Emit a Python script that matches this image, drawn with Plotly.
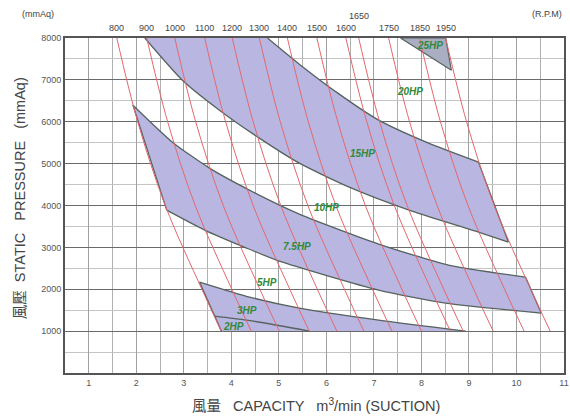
import plotly.graph_objects as go

# ---------------- data ----------------
pressure_levels = [8000, 6000, 4000, 2000, 1000]

rpm_values = [800, 900, 1000, 1100, 1200, 1300, 1400, 1500, 1600, 1650, 1750, 1850, 1950]
# capacity (m3/min) of each RPM curve at the pressure levels above
rpm_curve_capacity = [
    [1.59, 2.03, 2.61, 3.38, 3.79],
    [2.22, 2.66, 3.24, 4.01, 4.42],
    [2.81, 3.25, 3.83, 4.60, 5.01],
    [3.44, 3.88, 4.46, 5.23, 5.64],
    [4.02, 4.46, 5.04, 5.81, 6.22],
    [4.59, 5.03, 5.61, 6.38, 6.79],
    [5.18, 5.62, 6.20, 6.97, 7.38],
    [5.80, 6.24, 6.82, 7.59, 8.00],
    [6.41, 6.85, 7.43, 8.20, 8.61],
    [6.68, 7.12, 7.70, 8.47, 8.88],
    [7.31, 7.75, 8.33, 9.10, 9.51],
    [7.96, 8.40, 8.98, 9.75, 10.16],
    [8.51, 8.95, 9.53, 10.30, 10.71],
]

# 15HP / 20HP band
band_a_upper_x = [4.76, 5.43, 6.27, 7.10, 8.15, 9.20]
band_a_upper_y = [8000, 7375, 6659, 6038, 5489, 5036]
band_a_lower_x = [2.18, 2.97, 3.75, 4.59, 5.43, 6.48, 7.80, 9.20, 9.83]
band_a_lower_y = [8000, 6993, 6277, 5609, 5012, 4439, 3866, 3365, 3126]

# 25HP triangle
band_25_x = [7.56, 8.51, 8.63]
band_25_y = [8000, 8000, 7230]

# 7.5HP / 10HP band
band_b_upper_x = [1.93, 2.76, 3.54, 4.38, 5.43, 7.10, 8.57, 10.19]
band_b_upper_y = [6396, 5513, 4893, 4368, 3795, 3079, 2578, 2291]
band_b_lower_x = [2.64, 3.44, 4.32, 5.01, 7.10, 8.51, 10.52]
band_b_lower_y = [3890, 3413, 2983, 2673, 1981, 1671, 1432]

# 2HP / 3HP band
band_c_upper_x = [3.33, 4.38, 5.43, 7.10, 8.93]
band_c_upper_y = [2172, 1814, 1551, 1265, 1002]
band_c_bottom_x = [3.79]
band_c_bottom_y = [1000]
band_c_inner_x = [3.64, 4.32, 5.64]
band_c_inner_y = [1360, 1265, 1002]

hp_labels = ["25HP", "20HP", "15HP", "10HP", "7.5HP", "5HP", "3HP", "2HP"]
hp_x = [8.19, 7.75, 6.77, 6.01, 5.38, 4.76, 4.34, 4.04]
hp_y = [7828, 6730, 5250, 3962, 3030, 2172, 1504, 1122]

x_ticks = [1, 2, 3, 4, 5, 6, 7, 8, 9, 10, 11]
y_ticks = [1000, 2000, 3000, 4000, 5000, 6000, 7000, 8000]

# ---------------- figure ----------------
FILL = "#b9b7e2"
EDGE = "#55625d"
RED = "#e2686c"
FONT = "Liberation Sans, Arial, Noto Sans CJK TC, sans-serif"
SMOOTH = 0.6

fig = go.Figure()


def fill_poly(xs, ys, fill):
    fig.add_trace(go.Scatter(x=xs, y=ys, mode="lines", fill="toself",
                             fillcolor=fill,
                             line=dict(width=0, shape="spline", smoothing=SMOOTH),
                             hoverinfo="skip", showlegend=False))


def edge(xs, ys, smooth=True):
    fig.add_trace(go.Scatter(x=xs, y=ys, mode="lines",
                             line=dict(color=EDGE, width=1.3,
                                       shape="spline" if smooth else "linear",
                                       smoothing=SMOOTH),
                             hoverinfo="skip", showlegend=False))


def corners(xs, ys):
    # repeat end points so the smoothed outline keeps sharp corners
    return [xs[0]] + xs + [xs[-1]], [ys[0]] + ys + [ys[-1]]


# band A
ux, uy = corners(band_a_upper_x, band_a_upper_y)
lx, ly = corners(band_a_lower_x[::-1], band_a_lower_y[::-1])
fill_poly(ux + lx, uy + ly, FILL)
# 25HP
fig.add_trace(go.Scatter(x=band_25_x + band_25_x[:1], y=band_25_y + band_25_y[:1],
                         mode="lines", fill="toself", fillcolor="#a9aec2",
                         line=dict(color=EDGE, width=1.2), hoverinfo="skip", showlegend=False))
# band B
ux, uy = corners(band_b_upper_x, band_b_upper_y)
lx, ly = corners(band_b_lower_x[::-1], band_b_lower_y[::-1])
fill_poly(ux + lx, uy + ly, FILL)
# band C
ux, uy = corners(band_c_upper_x, band_c_upper_y)
fill_poly(ux + band_c_bottom_x + band_c_bottom_x,
          uy + band_c_bottom_y + band_c_bottom_y, FILL)

# band edges
edge(band_a_upper_x, band_a_upper_y)
edge(band_a_lower_x, band_a_lower_y)
edge([band_a_upper_x[-1], band_a_lower_x[-1]], [band_a_upper_y[-1], band_a_lower_y[-1]], False)
edge(band_b_upper_x, band_b_upper_y)
edge(band_b_lower_x, band_b_lower_y)
edge([band_b_upper_x[-1], band_b_lower_x[-1]], [band_b_upper_y[-1], band_b_lower_y[-1]], False)
edge([band_b_upper_x[0], band_b_lower_x[0]], [band_b_upper_y[0], band_b_lower_y[0]], False)
edge(band_c_upper_x, band_c_upper_y)
edge([band_c_upper_x[0], band_c_bottom_x[0]], [band_c_upper_y[0], band_c_bottom_y[0]], False)
edge(band_c_inner_x, band_c_inner_y)

# RPM curves
for caps in rpm_curve_capacity:
    fig.add_trace(go.Scatter(x=caps, y=pressure_levels, mode="lines",
                             line=dict(color=RED, width=1, shape="spline"),
                             hoverinfo="skip", showlegend=False))

annotations = []
for lab, cx, cy in zip(hp_labels, hp_x, hp_y):
    annotations.append(dict(x=cx, y=cy, xref="x", yref="y", text="<i><b>%s</b></i>" % lab,
                            showarrow=False, font=dict(size=10, color="#2f8a3a", family=FONT)))

for rpm, caps in zip(rpm_values, rpm_curve_capacity):
    annotations.append(dict(x=caps[0], y=1, xref="x", yref="paper", text=str(rpm),
                            showarrow=False, yanchor="middle",
                            yshift=22 if rpm == 1650 else 10,
                            font=dict(size=9, color="#444", family=FONT)))

annotations += [
    dict(x=-0.09, y=1, xref="paper", yref="paper", text="(mmAq)", showarrow=False,
         yanchor="middle", yshift=24, font=dict(size=9, color="#444", family=FONT)),
    dict(x=1.0, y=1, xref="paper", yref="paper", text="(R.P.M)", showarrow=False,
         xanchor="right", yanchor="middle", yshift=24,
         font=dict(size=9, color="#444", family=FONT)),
    dict(x=0.503, y=-0.0955, xref="paper", yref="paper",
         text="風量   CAPACITY   m<sup>3</sup>/min (SUCTION)", showarrow=False,
         yanchor="middle", font=dict(size=14.5, color="#444", family=FONT)),
    dict(x=-0.09, y=0.522, xref="paper", yref="paper", textangle=-90,
         text="風壓  STATIC   PRESSURE   (mmAq)", showarrow=False,
         xanchor="center", yanchor="middle", font=dict(size=14.5, color="#444", family=FONT)),
]

fig.update_layout(
    width=570, height=419,
    margin=dict(l=65, r=6, t=38, b=46),
    plot_bgcolor="white", paper_bgcolor="white",
    annotations=annotations,
    hovermode=False,
    xaxis=dict(range=[0.5, 11], tickvals=x_ticks, showgrid=True, gridcolor="#a0a0a0",
               gridwidth=1, zeroline=False, showline=True, linecolor="#555", linewidth=2,
               mirror=True, automargin=False, tickfont=dict(size=9, color="#555", family=FONT),
               minor=dict(dtick=0.5, tick0=0.5, showgrid=True, gridcolor="#b0b0b0", gridwidth=1)),
    yaxis=dict(range=[0, 8000], tickvals=y_ticks, showgrid=True, gridcolor="#6a6a6a",
               gridwidth=1, zeroline=False, showline=True, linecolor="#555", linewidth=2,
               mirror=True, automargin=False, tickfont=dict(size=9, color="#555", family=FONT),
               minor=dict(dtick=500, tick0=0, showgrid=True, gridcolor="#c4c4c4", gridwidth=1)),
)

fig.write_html("out.html", config={"displayModeBar": False},
               post_script="document.body.style.margin='0px';document.body.style.overflow='hidden';")
